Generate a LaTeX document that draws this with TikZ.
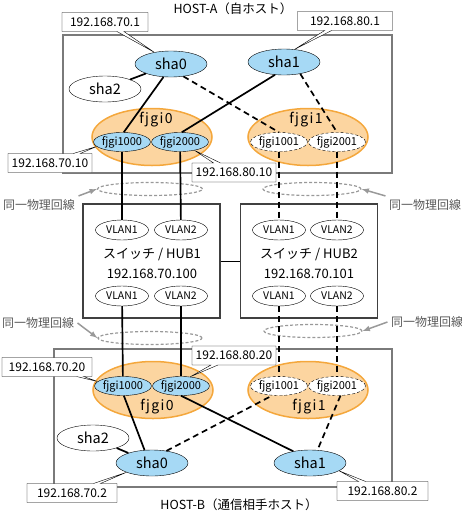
\documentclass[tikz,border=0pt]{standalone}
\usepackage{fontspec}
\setmainfont{Noto Sans CJK JP}
\usetikzlibrary{shapes.geometric,shapes.callouts}

\definecolor{shablue}{HTML}{A6D9F5}
\definecolor{bondfill}{HTML}{FCD5A0}
\definecolor{bondline}{HTML}{F4A73C}
\definecolor{samegray}{HTML}{999999}
\definecolor{boxgray}{HTML}{7A7A7A}

\tikzset{
	sha/.style={ellipse, draw, fill=shablue, minimum width=72pt, minimum height=26pt, inner sep=0pt, font=\fontsize{14.5}{14.5}\selectfont},
	shawhite/.style={sha, fill=white},
	bond/.style={ellipse, draw=bondline, line width=1.5pt, fill=bondfill, minimum width=120pt, minimum height=57pt},
	bondname/.style={font=\fontsize{14}{14}\selectfont\addfontfeature{LetterSpace=10}},
	vif/.style={ellipse, draw, fill=shablue, minimum width=50pt, minimum height=19pt, inner sep=0pt, font=\fontsize{11}{11}\selectfont},
	vifdash/.style={vif, fill=white, dash pattern=on 3pt off 2pt},
	vlan/.style={ellipse, draw, fill=white, minimum width=53pt, minimum height=20pt, inner sep=0pt, font=\fontsize{10.5}{10.5}\selectfont},
	ipbox/.style={rectangle callout, draw, fill=white, callout pointer width=7pt, minimum height=19pt, inner sep=0pt, font=\fontsize{12}{12}\selectfont},
	hostbox/.style={draw=boxgray, line width=1.2pt, minimum width=#1, minimum height=138pt},
	hubbox/.style={draw=black!75, line width=1.2pt, minimum width=137pt, minimum height=114pt},
	hubtext/.style={font=\fontsize{13}{13}\selectfont},
	link/.style={line width=1.7pt},
	linkdash/.style={line width=1.7pt, dash pattern=on 6pt off 4pt},
	same/.style={ellipse, draw=samegray, line width=1.2pt, dash pattern=on 3pt off 2pt, minimum height=13pt},
	samelabel/.style={text=black!65, font=\fontsize{12}{12}\selectfont},
	samearrow/.style={draw=samegray, line width=1.5pt, -latex},
}

\begin{document}
\begin{tikzpicture}[x=1pt, y=-1pt]
	\useasboundingbox (0,0) rectangle (462,515);

	% hosts and switches
	\node[hostbox=329pt] (hosta) at (227.5,104) {};
	\node[hostbox=338pt] (hostb) at (223,418) {};
	\node at (233,9) {\fontsize{12.5}{12.5}\selectfont HOST-A（自ホスト）};
	\node at (239,505) {\fontsize{12.5}{12.5}\selectfont HOST-B（通信相手ホスト）};

	\node[hubbox] (hub1) at (151.5,261) {};
	\node[hubbox] (hub2) at (309,261) {};
	\draw (hub1) -- (hub2);

	\node[same, minimum width=105pt] (samea1) at (150,189) {};
	\node[same, minimum width=98pt] (samea2) at (312,189) {};
	\node[same, minimum width=104pt] (sameb1) at (150,338) {};
	\node[same, minimum width=98pt] (sameb2) at (313,331) {};

	\node[samelabel] (lbla1) at (39,205) {同一物理回線};
	\node[samelabel] (lbla2) at (425,205) {同一物理回線};
	\node[samelabel] (lblb1) at (38,323) {同一物理回線};
	\node[samelabel] (lblb2) at (427,322) {同一物理回線};
	\draw[samearrow] (lbla1.north east) -- (samea1.west);
	\draw[samearrow] (lbla2.north west) -- (samea2.east);
	\draw[samearrow] (lblb1.east) -- (sameb1.west);
	\draw[samearrow] (lblb2.west) -- (sameb2.east);

	\node[vlan] (v1a) at (122,230) {VLAN1};
	\node[vlan] (v2a) at (181,230) {VLAN2};
	\node[vlan] (v1b) at (122,296) {VLAN1};
	\node[vlan] (v2b) at (181,296) {VLAN2};
	\node[hubtext] (hub1name) at (152,254) {スイッチ / HUB1};
	\node[hubtext] (hub1ip) at (152,274) {192.168.70.100};

	\node[vlan] (v3a) at (279,230) {VLAN1};
	\node[vlan] (v4a) at (337,230) {VLAN2};
	\node[vlan] (v3b) at (279,296) {VLAN1};
	\node[vlan] (v4b) at (337,296) {VLAN2};
	\node[hubtext] (hub2name) at (309,254) {スイッチ / HUB2};
	\node[hubtext] (hub2ip) at (309,274) {192.168.70.101};

	% HOST-A
	\node[bond] (bonda0) at (152,137) {};
	\node[bondname] at (156,120) {fjgi0};
	\node[vif] (fjgi1000a) at (122,142) {fjgi1000};
	\node[vif] (fjgi2000a) at (180,142) {fjgi2000};

	\node[bond] (bonda1) at (308,137) {};
	\node[bondname] at (306,120) {fjgi1};
	\node[vifdash] (fjgi1001a) at (279,142) {fjgi1001};
	\node[vifdash] (fjgi2001a) at (337,142) {fjgi2001};

	\node[sha] (sha0a) at (171,64) {sha0};
	\node[shawhite] (sha2a) at (105,89) {sha2};
	\node[sha] (sha1a) at (284,62) {sha1};

	\draw[link] (sha0a) -- (sha2a);
	\draw[link] (sha0a.-120) -- (fjgi1000a.80);
	\draw[linkdash] (sha0a.-45) -- (fjgi1001a.north);
	\draw[link] (sha1a.-125) -- (fjgi2000a.80);
	\draw[linkdash] (sha1a.-36) -- (fjgi2001a.north);

	% HOST-B
	\node[bond] (bondb0) at (153,390) {};
	\node[bondname] at (157,407) {fjgi0};
	\node[vif] (fjgi1000b) at (123,386) {fjgi1000};
	\node[vif] (fjgi2000b) at (181,386) {fjgi2000};

	\node[bond] (bondb1) at (308,390) {};
	\node[bondname] at (309,407) {fjgi1};
	\node[vifdash] (fjgi1001b) at (279,386) {fjgi1001};
	\node[vifdash] (fjgi2001b) at (337,386) {fjgi2001};

	\node[shawhite] (sha2b) at (93,438) {sha2};
	\node[sha] (sha0b) at (152,463) {sha0};
	\node[sha] (sha1b) at (310,463) {sha1};

	\draw[link] (sha0b) -- (sha2b);
	\draw[link] (fjgi1000b.-85) -- (sha0b.120);
	\draw[linkdash] (sha0b.40) -- (fjgi1001b.-125);
	\draw[link] (fjgi2000b.south) -- (sha1b.145);
	\draw[linkdash] (fjgi2001b.-70) -- (sha1b.60);

	% through the switches
	\draw[link] (fjgi1000a) -- (v1a);
	\draw[link] (fjgi2000a) -- (v2a);
	\draw[link] (v1b) -- (fjgi1000b);
	\draw[link] (v2b) -- (fjgi2000b);
	\draw[linkdash] (fjgi1001a) -- (v3a);
	\draw[linkdash] (fjgi2001a) -- (v4a);
	\draw[linkdash] (v3b) -- (fjgi1001b);
	\draw[linkdash] (v4b) -- (fjgi2001b);

	% addresses
	\node[ipbox, minimum width=86pt, callout absolute pointer={(sha0a.145)}] (ipsha0a) at (105,22) {192.168.70.1};
	\node[ipbox, minimum width=95pt, callout absolute pointer={(sha1a.50)}] (ipsha1a) at (345,21) {192.168.80.1};
	\node[ipbox, minimum width=84pt, callout absolute pointer={(fjgi1000a.190)}] (ipfjgi1000a) at (50,163) {192.168.70.10};
	\node[ipbox, minimum width=84pt, callout absolute pointer={(fjgi2000a.-30)}] (ipfjgi2000a) at (234,172.5) {192.168.80.10};
	\node[ipbox, minimum width=90pt, callout absolute pointer={(fjgi1000b.170)}] (ipfjgi1000b) at (47,367) {192.168.70.20};
	\node[ipbox, minimum width=84pt, callout absolute pointer={(fjgi2000b.45)}] (ipfjgi2000b) at (234,355.5) {192.168.80.20};
	\node[ipbox, minimum width=90pt, callout absolute pointer={(sha0b.200)}] (ipsha0b) at (72,493) {192.168.70.2};
	\node[ipbox, minimum width=91pt, callout absolute pointer={(sha1b.-15)}] (ipsha1b) at (382.5,491) {192.168.80.2};
\end{tikzpicture}
\end{document}
